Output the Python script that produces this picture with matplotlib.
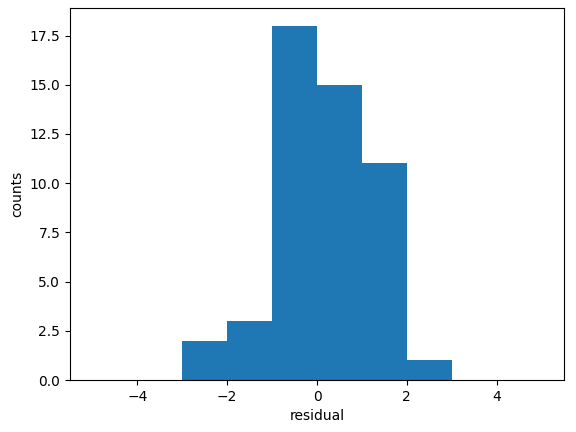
import numpy as np
import matplotlib
matplotlib.use("Agg")
import matplotlib.pyplot as plt

# bin edges and counts
bin_edges = [-5, -4, -3, -2, -1, 0, 1, 2, 3, 4, 5]
counts = [0, 0, 2, 3, 18, 15, 11, 1, 0, 0]

fig, ax = plt.subplots(figsize=(5.76, 4.32), dpi=100)
fig.subplots_adjust(left=70/576, right=564/576, bottom=1-380/432, top=1-8/432)
ax.hist(bin_edges[:-1], bins=bin_edges, weights=counts)
ax.set_xlabel("residual")
ax.set_ylabel("counts")
fig.savefig("out.png")
